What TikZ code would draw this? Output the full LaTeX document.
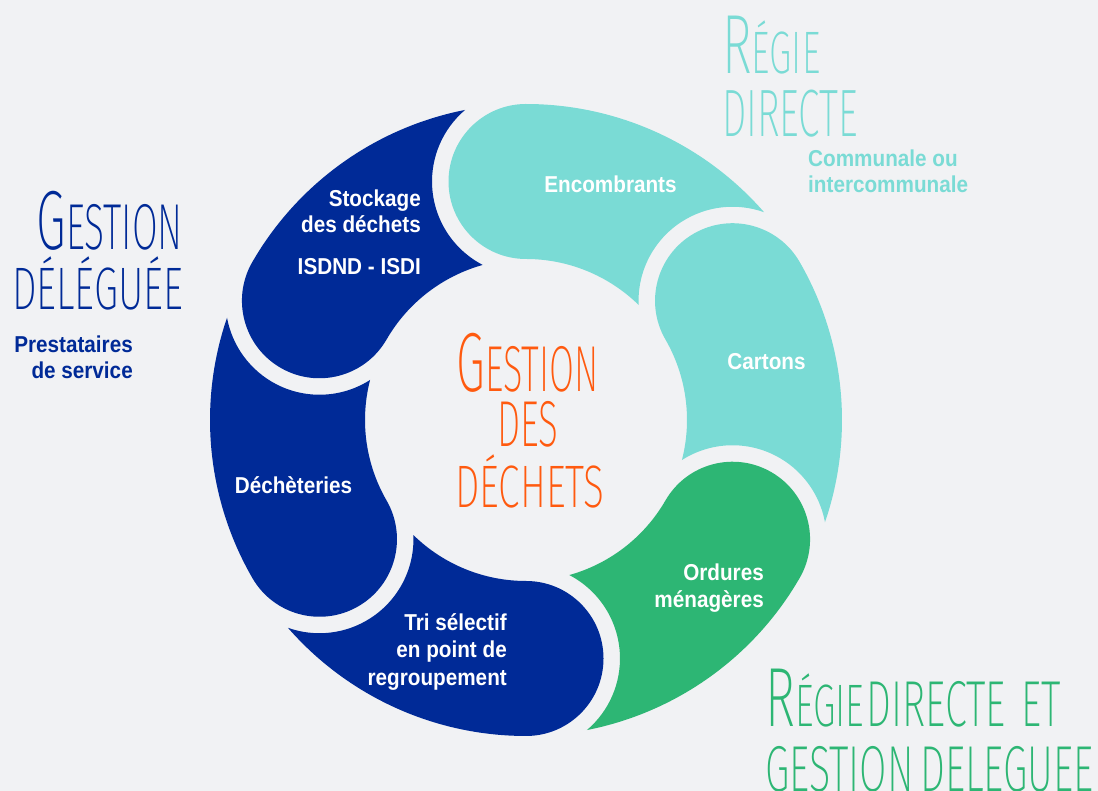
\documentclass[tikz,border=0pt]{standalone}
\usepackage{fontspec}
\usepackage{graphicx}
\setmainfont{Liberation Sans}[FakeStretch=0.9]
\IfFontExistsTF{Fira Sans ExtraLight}
  {\newfontfamily\thinf{Fira Sans ExtraLight}[FakeStretch=0.53]}
  {\IfFontExistsTF{Fira Sans Light}
    {\newfontfamily\thinf{Fira Sans Light}[FakeStretch=0.53]}
    {\newfontfamily\thinf{Fira Sans}[FakeStretch=0.5]}}
\definecolor{cBg}{HTML}{F1F2F4}
\definecolor{cNavy}{HTML}{002A97}
\definecolor{cTeal}{HTML}{7ADBD5}
\definecolor{cGreen}{HTML}{2DB674}
\definecolor{cOrange}{HTML}{FF5A0F}
\newcommand\tfA{\thinf\fontsize{84}{84}\selectfont}
\newcommand\tfB{\thinf\fontsize{65}{65}\selectfont}
\newcommand\tfC{\thinf\fontsize{60}{60}\selectfont}
\newcommand\tfD{\thinf\fontsize{67}{67}\selectfont}
\newcommand\hs[2]{\scalebox{#1}[1]{#2}}
% ring segment: #1 = angle of the rounded end, #2 = colour
\newcommand\ringseg[2]{%
  \fill[#2] ([shift={(#1:316pt)}]O)
    arc[start angle=#1, end angle=#1+180, radius=77.5pt]
    arc[start angle=#1, end angle=#1-60+15.6, radius=161pt]
    arc[start angle=#1-60+152.57, end angle=#1-60+40.41, radius=94pt]
    arc[start angle=#1-60+11.12, end angle=#1, radius=316pt]
    -- cycle;}
\begin{document}
\begin{tikzpicture}[x=1pt,y=1pt,
  lab/.style={text=white,font=\bfseries\fontsize{23}{27}\selectfont,inner sep=0pt},
  side/.style={font=\bfseries\fontsize{23}{27}\selectfont,inner sep=0pt},
  ttl/.style={inner sep=0pt}]
\fill[cBg] (0,0) rectangle (1098,791);
\useasboundingbox (0,0) rectangle (1098,791);
\coordinate (O) at (526,371);
\ringseg{90}{cTeal}
\ringseg{150}{cNavy}
\ringseg{210}{cNavy}
\ringseg{270}{cNavy}
\ringseg{330}{cGreen}
\ringseg{30}{cTeal}
% labels in the ring
\node[lab,anchor=base] (enc) at (610.5,598.7) {Encombrants};
\node[lab,anchor=base east] (stk1) at (421,584) {Stockage};
\node[lab,anchor=base east] (stk2) at (421,558) {des déchets};
\node[lab,anchor=base east] (isd) at (421,516) {ISDND - ISDI};
\node[lab,anchor=base] (car) at (766.5,421) {Cartons};
\node[lab,anchor=base] (dec) at (293.5,297) {Déchèteries};
\node[lab,anchor=base east] (ord1) at (764,210.5) {Ordures};
\node[lab,anchor=base east] (ord2) at (764,183) {ménagères};
\node[lab,anchor=base east] (tri1) at (507,160) {Tri sélectif};
\node[lab,anchor=base east] (tri2) at (507,133) {en point de};
\node[lab,anchor=base east] (tri3) at (507,105) {regroupement};
% side texts
\node[side,text=cTeal,anchor=base west] (com1) at (808,624.3) {Communale ou};
\node[side,text=cTeal,anchor=base west] (com2) at (808,598) {intercommunale};
\node[side,text=cNavy,anchor=base east] (pre1) at (133,438.3) {Prestataires};
\node[side,text=cNavy,anchor=base east] (pre2) at (133,412) {de service};
% centre title
\node[ttl,text=cOrange,anchor=base] (g1) at (527.5,399) {\hs{1.05}{\tfA G\tfB ESTION}};
\node[ttl,text=cOrange,anchor=base] (g2) at (528,344) {\hs{1.07}{\tfB DES}};
\node[ttl,text=cOrange,anchor=base] (g3) at (530,283) {\hs{1.22}{\tfC DÉCHETS}};
% left title
\node[ttl,text=cNavy,anchor=base east] (gd1) at (183,541) {\hs{1.08}{\tfA G\tfB ESTION}};
\node[ttl,text=cNavy,anchor=base east] (gd2) at (183,481) {\hs{1.23}{\tfC DÉLÉGUÉE}};
% top right title
\node[ttl,text=cTeal,anchor=base west] (rd1) at (722,717) {\hs{1.14}{\tfA R\tfC ÉGIE}};
\node[ttl,text=cTeal,anchor=base west] (rd2) at (722,654.3) {\hs{1.09}{\tfD DIRECTE}};
% bottom right title
\node[ttl,text=cGreen,anchor=base west] (gr1) at (765,64) {\hs{1.15}{\tfA R\tfC ÉGIE\kern2pt\tfB DIRECTE\hspace{14pt}ET}};
\node[ttl,text=cGreen,anchor=base west] (gr2) at (765,-1) {\hs{1.15}{\tfB GESTION\hspace{6pt}DELEGUEE}};
\end{tikzpicture}
\end{document}
